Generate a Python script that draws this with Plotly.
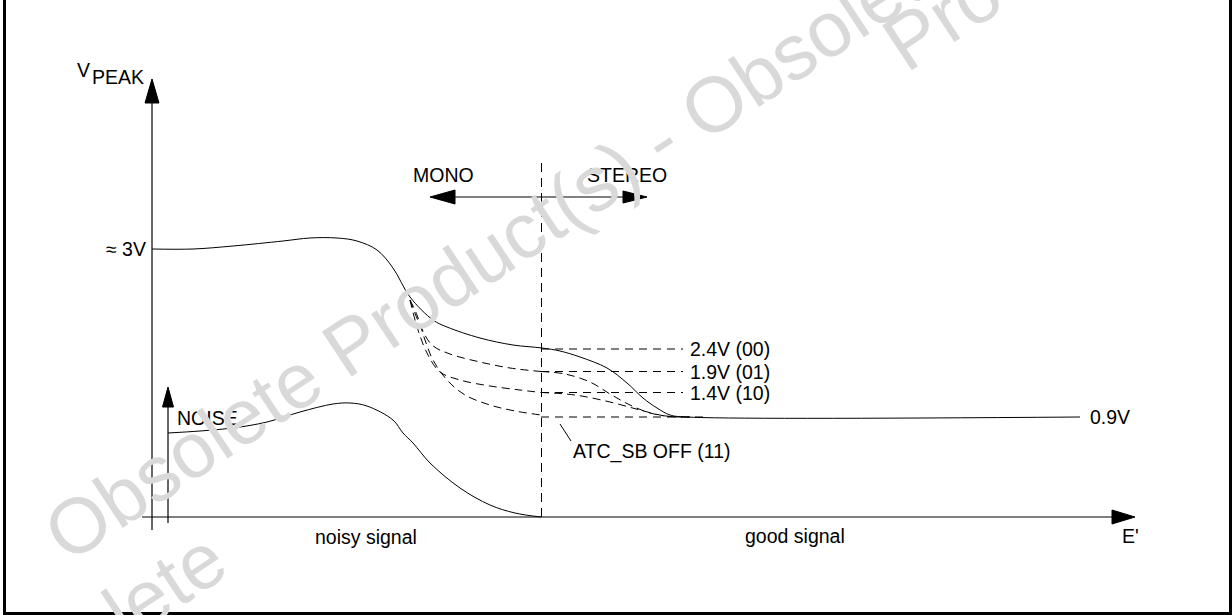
import plotly.graph_objects as go

# ---------------- data (diagram coordinates; x right, y down) ----------------
# V_PEAK curve (solid): stereo-blend threshold 2.4V (00) then drop to 0.9V for good signal
vpeak_x = [152, 193, 233, 283, 310, 337, 357, 377, 393, 410, 433, 447, 480, 513, 542, 560, 580, 607, 627, 643, 657, 670, 687, 1080]
vpeak_y = [249, 249, 246, 241, 238, 238, 241, 250, 268, 297, 320, 327, 338, 345, 348, 351, 357, 368, 383, 398, 408, 415, 417, 417]

# dashed alternative curves (ATC_SB settings)
c19_x = [410, 420, 432, 450, 480, 510, 541]
c19_y = [300, 325, 345, 354, 362, 368, 371.5]
c19b_x = [541, 565, 590, 610, 630, 650, 670, 690]
c19b_y = [371.5, 374, 382, 394, 405, 413, 416.5, 417]

c14_x = [410, 418, 428, 440, 460, 490, 520, 541]
c14_y = [300, 330, 355, 372, 380, 386, 390, 392.5]
c14b_x = [541, 575, 610, 640, 665, 690]
c14b_y = [392.5, 395, 402, 410, 416, 417]

c09_x = [410, 417, 425, 433, 447, 465, 490, 515, 541]
c09_y = [300, 315, 340, 360, 380, 395, 405, 411, 415]

# threshold levels (horizontal dashed) and their labels
level_y = [349, 371.5, 392.5, 417]
level_x0 = [541, 541, 541, 541]
level_x1 = [683, 683, 683, 703]
level_labels = ["2.4V (00)", "1.9V (01)", "1.4V (10)"]

# noise curve
noise_x = [168, 200, 233, 267, 300, 333, 350, 367, 393, 403, 413, 430, 460, 490, 515, 541]
noise_y = [433, 431, 428, 422, 412, 404, 403, 406, 420, 433, 443, 463, 488, 505, 513, 517]

# axes / markers
vaxis_x, vaxis_y = [152, 152], [530, 103]
naxis_x, naxis_y = [168, 168], [523, 407]
eaxis_x, eaxis_y = [142, 1112], [517, 517]
split_x, split_y = [541.5, 541.5], [163, 517]
ms_x, ms_y = [455, 623], [197, 197]
atc_lead_x, atc_lead_y = [560, 571], [424, 441]
frame_x = [4.5, 4.5, 1230.5, 1230.5]
frame_y = [0, 613.5, 613.5, 0]

BLACK = "#000000"
FONT = "Liberation Sans, Arial, sans-serif"

fig = go.Figure()


def line(x, y, width=1.0, dash=None, spline=False):
    fig.add_trace(go.Scatter(
        x=x, y=y, mode="lines", hoverinfo="skip",
        line=dict(color=BLACK, width=width, dash=dash,
                  shape="spline" if spline else "linear", smoothing=1.0)))


def head(tip_x, tip_y, base_x, base_y, hw):
    # filled triangular arrow head from a tip and a base centre
    dx, dy = tip_x - base_x, tip_y - base_y
    n = (dx * dx + dy * dy) ** 0.5
    px, py = -dy / n * hw, dx / n * hw
    fig.add_trace(go.Scatter(
        x=[tip_x, base_x + px, base_x - px, tip_x],
        y=[tip_y, base_y + py, base_y - py, tip_y],
        mode="lines", fill="toself", fillcolor=BLACK, hoverinfo="skip",
        line=dict(color=BLACK, width=1)))


# frame
line(frame_x, frame_y, width=3)
# axes
line(vaxis_x, vaxis_y, width=1.2)
head(152, 79, 152, 103, 7)
line(naxis_x, naxis_y, width=1.2)
head(168, 387, 168, 407, 5.5)
line(eaxis_x, eaxis_y, width=1.2)
head(1135, 517, 1112, 517, 7)
# mono / stereo split
line(split_x, split_y, width=1.0, dash="9px,6px")
line(ms_x, ms_y, width=1.0)
head(430, 197, 455, 197, 7)
head(647, 197, 623, 197, 6)

# dashed curves
for cx, cy in [(c19_x, c19_y), (c19b_x, c19b_y), (c14_x, c14_y), (c14b_x, c14b_y), (c09_x, c09_y)]:
    line(cx, cy, width=1.0, dash="8px,5px", spline=True)
for y, x0, x1 in zip(level_y, level_x0, level_x1):
    line([x0, x1], [y, y], width=1.0, dash="8px,6px")

# solid curves
line(vpeak_x, vpeak_y, width=1.0, spline=True)
line(noise_x, noise_y, width=1.0, spline=True)
line(atc_lead_x, atc_lead_y, width=1.0)

# ---------------- text ----------------
def text(s, x, y, anchor="left", size=19.5, color=BLACK):
    fig.add_annotation(x=x, y=y, xref="x", yref="y", text=s, showarrow=False,
                       xanchor=anchor, yanchor="middle", borderpad=0,
                       font=dict(family=FONT, size=size, color=color))


text("V", 91, 70, anchor="right")
text("PEAK", 91, 77)
text("≈ 3V", 147, 249, anchor="right")
text("MONO", 443, 175, anchor="center")
text("STEREO", 627, 175, anchor="center")
for lab, y in zip(level_labels, level_y):
    text(lab, 689, y)
text("0.9V", 1089, 417)
text("ATC_SB OFF (11)", 572, 451)
text("NOISE", 176, 418)
text("noisy signal", 314, 537)
text("good signal", 744, 536)
text("E'", 1121, 536)

# watermark
WM = "#d9d9d9"
for s, x, y in [("Obsolete Product(s) - Obsolete Product(s)", 660, 140),
                ("lete", 165, 585), ("Prod", 960, 6)]:
    fig.add_annotation(x=x, y=y, xref="x", yref="y", text=s, showarrow=False,
                       textangle=-33.5, xanchor="center", yanchor="middle",
                       font=dict(family=FONT, size=78, color=WM))

fig.update_layout(
    width=1232, height=615, autosize=False,
    margin=dict(l=0, r=0, t=0, b=0, pad=0),
    paper_bgcolor="white", plot_bgcolor="white", showlegend=False,
    xaxis=dict(range=[0, 1232], visible=False, fixedrange=True),
    yaxis=dict(range=[615, 0], visible=False, fixedrange=True),
)

fig.write_html("out.html", include_plotlyjs=True,
               config={"displayModeBar": False, "staticPlot": True},
               post_script="document.body.style.margin='0';document.body.style.overflow='hidden';")
